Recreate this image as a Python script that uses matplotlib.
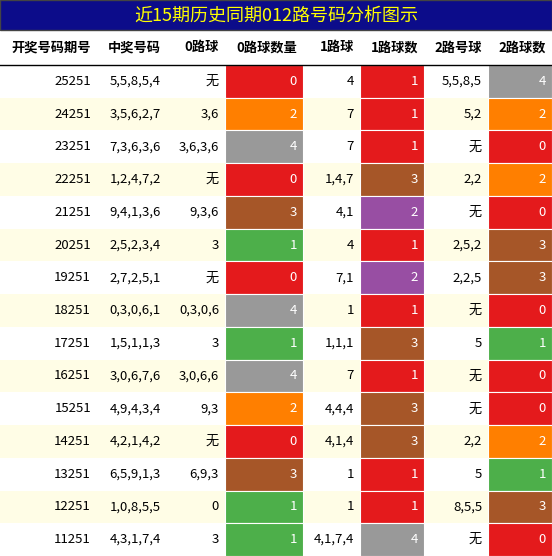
import matplotlib
matplotlib.use('Agg')
import matplotlib.pyplot as plt
from matplotlib.patches import Rectangle

plt.rcParams['font.family'] = ['Noto Sans CJK SC', 'DejaVu Sans']

title = '近15期历史同期012路号码分析图示'
headers = ['开奖号码期号', '中奖号码', '0路球', '0路球数量', '1路球', '1路球数', '2路号球', '2路球数']
periods = ['25251', '24251', '23251', '22251', '21251', '20251', '19251', '18251',
           '17251', '16251', '15251', '14251', '13251', '12251', '11251']
numbers = ['5,5,8,5,4', '3,5,6,2,7', '7,3,6,3,6', '1,2,4,7,2', '9,4,1,3,6', '2,5,2,3,4',
           '2,7,2,5,1', '0,3,0,6,1', '1,5,1,1,3', '3,0,6,7,6', '4,9,4,3,4', '4,2,1,4,2',
           '6,5,9,1,3', '1,0,8,5,5', '4,3,1,7,4']
road0 = ['无', '3,6', '3,6,3,6', '无', '9,3,6', '3', '无', '0,3,0,6', '3', '3,0,6,6',
         '9,3', '无', '6,9,3', '0', '3']
count0 = [0, 2, 4, 0, 3, 1, 0, 4, 1, 4, 2, 0, 3, 1, 1]
road1 = ['4', '7', '7', '1,4,7', '4,1', '4', '7,1', '1', '1,1,1', '7', '4,4,4', '4,1,4',
         '1', '1', '4,1,7,4']
count1 = [1, 1, 1, 3, 2, 1, 2, 1, 3, 1, 3, 3, 1, 1, 4]
road2 = ['5,5,8,5', '5,2', '无', '2,2', '无', '2,5,2', '2,2,5', '无', '5', '无', '无',
         '2,2', '5', '8,5,5', '无']
count2 = [4, 2, 0, 2, 0, 3, 3, 0, 1, 0, 0, 2, 1, 3, 0]

RED, ORANGE, GRAY, BROWN, GREEN, PURPLE = '#e41a1c', '#ff7f00', '#999999', '#a65628', '#4daf4a', '#984ea3'
pal_a = {0: RED, 1: GREEN, 2: ORANGE, 3: BROWN, 4: GRAY}
pal_b = {0: RED, 1: RED, 2: PURPLE, 3: BROWN, 4: GRAY}

W, H = 552, 556
fig = plt.figure(figsize=(W / 100, H / 100), dpi=100)
ax = fig.add_axes([0, 0, 1, 1])
ax.set_xlim(0, W)
ax.set_ylim(H, 0)
ax.axis('off')

cols = [0, 97, 167, 225, 303, 360, 424, 488, 552]
title_h, head_h = 30, 35
row_h = (H - title_h - head_h) / len(periods)

ax.add_patch(Rectangle((0, 0), W, title_h, facecolor='#0c0c8a', edgecolor='#444444', lw=1))
ax.text(W / 2, title_h / 2 + 1, title, color='#ffff00', fontsize=13, ha='center', va='center')

for j, h in enumerate(headers):
    ax.text(cols[j + 1] - 6, title_h + head_h / 2, h, fontsize=9.5, fontweight='bold',
            ha='right', va='center')
ax.plot([0, W], [title_h + head_h, title_h + head_h], color='black', lw=1)

for i in range(len(periods)):
    y0 = title_h + head_h + i * row_h
    bg = '#ffffff' if i % 2 == 0 else '#fffde6'
    ax.add_patch(Rectangle((0, y0), W, row_h, facecolor=bg, edgecolor='none'))
    vals = [periods[i], numbers[i], road0[i], count0[i], road1[i], count1[i], road2[i], count2[i]]
    fills = {3: pal_a[count0[i]], 5: pal_b[count1[i]], 7: pal_a[count2[i]]}
    for j, v in enumerate(vals):
        tc = 'black'
        if j in fills:
            ax.add_patch(Rectangle((cols[j], y0), cols[j + 1] - cols[j], row_h,
                                   facecolor=fills[j], edgecolor='white', lw=0.8))
            tc = 'white'
        ax.text(cols[j + 1] - 6, y0 + row_h / 2, str(v), fontsize=9.5, color=tc,
                ha='right', va='center')

fig.savefig('out.png', dpi=100)
